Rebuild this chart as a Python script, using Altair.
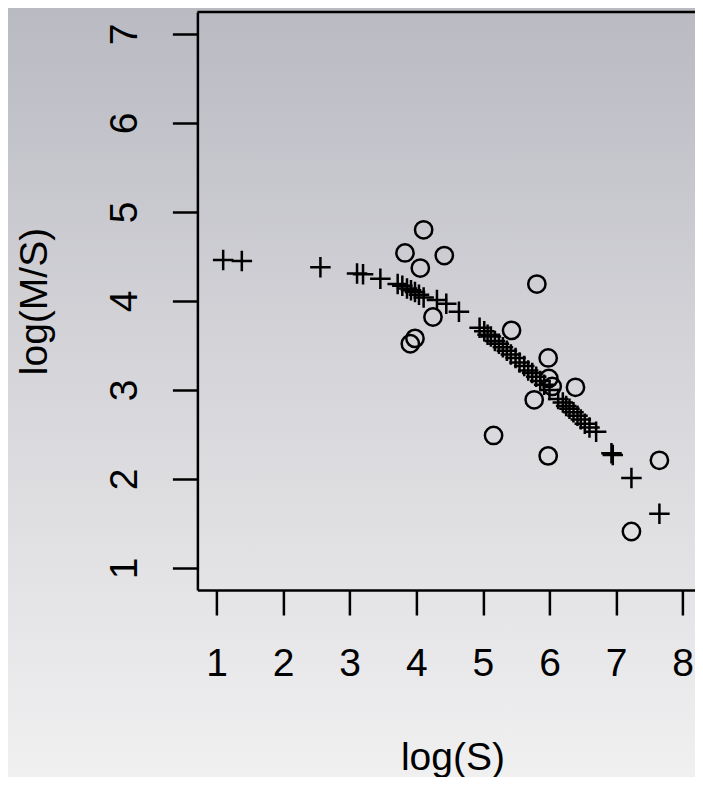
import altair as alt
import pandas as pd

# Data
plus_x = [1.10, 1.38, 2.56, 3.11, 3.20, 3.46, 3.72, 3.79, 3.86, 3.92, 3.98, 4.04, 4.11, 4.31, 4.45, 4.64,
          4.95, 5.02, 5.07, 5.12, 5.18, 5.24, 5.30, 5.36, 5.42, 5.49, 5.55, 5.62, 5.68, 5.74, 5.80, 5.86,
          5.92, 6.00, 6.13, 6.20, 6.25, 6.30, 6.36, 6.42, 6.47, 6.53, 6.60, 6.70, 6.93, 6.95, 7.23, 7.65]
plus_y = [4.46, 4.45, 4.38, 4.31, 4.30, 4.25, 4.19, 4.17, 4.14, 4.12, 4.10, 4.07, 4.04, 4.01, 3.97, 3.88,
          3.70, 3.66, 3.62, 3.60, 3.55, 3.52, 3.48, 3.44, 3.40, 3.36, 3.31, 3.27, 3.22, 3.19, 3.15, 3.10,
          3.06, 3.00, 2.90, 2.86, 2.82, 2.79, 2.75, 2.71, 2.67, 2.62, 2.58, 2.53, 2.29, 2.27, 2.01, 1.61]
circ_x = [3.83, 3.91, 3.98, 4.06, 4.11, 4.25, 4.42, 5.16, 5.43, 5.77, 5.81, 5.98, 5.98, 5.99, 6.04, 6.39, 7.23, 7.65]
circ_y = [4.54, 3.52, 3.58, 4.37, 4.80, 3.82, 4.51, 2.49, 3.67, 2.89, 4.19, 3.36, 2.26, 3.13, 3.04, 3.03, 1.41, 2.21]

x_ticks = [1, 2, 3, 4, 5, 6, 7, 8]
y_ticks = [1, 2, 3, 4, 5, 6, 7]
x_title = "log(S)"
y_title = "log(M/S)"

df = pd.DataFrame({
    "x": plus_x + circ_x,
    "y": plus_y + circ_y,
    "series": ["plus"] * len(plus_x) + ["circle"] * len(circ_x),
})

PL, PT = 189.4, 4
W = 687 - PL       # view runs to the right edge of the svg
H = 578
PB = 769 - PT - H  # svg reaches the bottom margin of the page
XMIN = 0.713
XMAX = XMIN + W / 66.6
FONT = "Liberation Sans"

gradient = alt.Gradient(
    gradient="linear",
    stops=[alt.GradientStop(color="#b9bac2", offset=0),
           alt.GradientStop(color="#d7d7db", offset=0.5),
           alt.GradientStop(color="#f0f0f1", offset=1)],
    x1=0, x2=0, y1=0, y2=1,
)

bg = alt.Chart(alt.Data(values=[{}])).mark_rect(color=gradient).encode(
    x=alt.value(-PL), x2=alt.value(W), y=alt.value(-PT), y2=alt.value(H + PB)
)

top_line = alt.Chart(alt.Data(values=[{}])).mark_rule(color="black", strokeWidth=2.5).encode(
    x=alt.value(0), x2=alt.value(W), y=alt.value(0)
)

points = alt.Chart(df).mark_point(filled=False, color="black", strokeWidth=2.5, opacity=1).encode(
    x=alt.X("x:Q",
            scale=alt.Scale(domain=[XMIN, XMAX], nice=False, zero=False),
            axis=alt.Axis(values=x_ticks, format="d", grid=False, tickSize=25, tickWidth=2.5,
                          tickColor="black", domain=True, domainColor="black", domainWidth=2.5,
                          labelFont=FONT, labelFontSize=39, labelColor="black", labelPadding=48,
                          labelBaseline="middle", labelAlign="center", labelFlush=False,
                          labelOverlap=False, title=x_title, titleFont=FONT, titleFontSize=39,
                          titleFontWeight="normal", titleColor="black", titleX=255, titleY=167,
                          titleAlign="center", titleBaseline="middle", zindex=1)),
    y=alt.Y("y:Q",
            scale=alt.Scale(domain=[0.753, 7.247], nice=False, zero=False),
            axis=alt.Axis(values=y_ticks, format="d", grid=False, tickSize=25, tickWidth=2.5,
                          tickColor="black", domain=True, domainColor="black", domainWidth=2.5,
                          labelFont=FONT, labelFontSize=39, labelColor="black", labelPadding=48,
                          labelAngle=270, labelBaseline="middle", labelAlign="center",
                          labelFlush=False, labelOverlap=False, title=y_title, titleFont=FONT,
                          titleFontSize=39, titleFontWeight="normal", titleColor="black",
                          titleAngle=270, titleX=-163, titleY=289, titleAlign="center",
                          titleBaseline="middle", zindex=1)),
    shape=alt.Shape("series:N",
                    scale=alt.Scale(domain=["circle", "plus"], range=["circle", "M-1,0H1M0,-1V1"]),
                    legend=None),
    size=alt.Size("series:N", scale=alt.Scale(domain=["circle", "plus"], range=[300, 420]),
                  legend=None),
)

chart = alt.layer(bg, top_line, points).properties(
    width=W, height=H,
    autosize=alt.AutoSizeParams(type="none"),
    padding={"left": PL, "top": PT, "right": 0, "bottom": PB},
).configure_view(stroke=None).configure(background="#ffffff")

chart.save("out.html", embed_options={"renderer": "svg", "actions": False})
